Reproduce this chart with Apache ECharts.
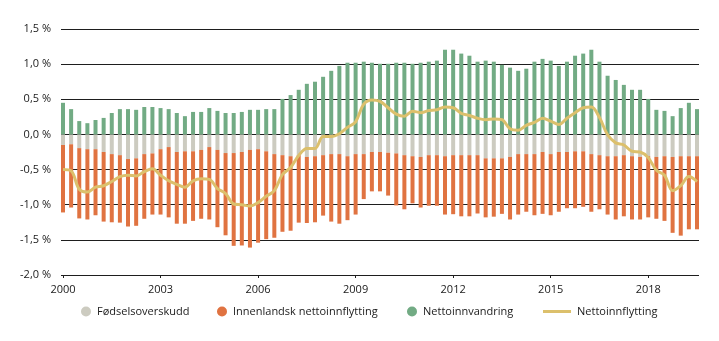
<!DOCTYPE html>
<html>
<head>
<meta charset="utf-8">
<script src="https://cdn.jsdelivr.net/npm/echarts@6/dist/echarts.min.js"></script>
<style>
html,body{margin:0;padding:0;background:#fff;}
#c{width:719px;height:341px;}
</style>
</head>
<body>
<div id="c"></div>
<script>
// Quarters 2000K1 .. 2019K3
const years = ['2000','2001','2002','2003','2004','2005','2006','2007','2008','2009','2010','2011','2012','2013','2014','2015','2016','2017','2018','2019'];
const quarters = ['K1','K2','K3','K4'];
const categories = [];
years.forEach(y => quarters.forEach(q => categories.push(y + q)));
categories.length = 79;

const tickYears = ['2000','2003','2006','2009','2012','2015','2018'];

// Fødselsoverskudd (%), negative
const fodselsoverskudd = [
 -0.15,-0.14,-0.195,-0.21,-0.21,-0.25,-0.28,-0.295,-0.35,-0.34,
 -0.28,-0.27,-0.21,-0.18,-0.25,-0.24,-0.24,-0.22,-0.18,-0.22,
 -0.265,-0.265,-0.25,-0.22,-0.21,-0.24,-0.28,-0.295,-0.31,-0.295,
 -0.32,-0.31,-0.295,-0.28,-0.28,-0.31,-0.28,-0.28,-0.25,-0.25,
 -0.26,-0.27,-0.295,-0.31,-0.32,-0.295,-0.295,-0.31,-0.295,-0.295,
 -0.295,-0.295,-0.34,-0.34,-0.34,-0.32,-0.28,-0.28,-0.28,-0.25,
 -0.28,-0.25,-0.25,-0.24,-0.24,-0.28,-0.295,-0.31,-0.31,-0.295,
 -0.31,-0.32,-0.31,-0.32,-0.31,-0.32,-0.31,-0.31,-0.31
];

// Innenlandsk nettoinnflytting (%)
const innenlandsk = [
 -0.96,-0.90,-1.00,-1.00,-0.94,-0.99,-0.97,-0.96,-0.96,-0.96,
 -0.92,-0.87,-0.93,-1.00,-1.02,-1.03,-0.99,-0.98,-1.03,-1.10,
 -1.17,-1.32,-1.33,-1.39,-1.33,-1.25,-1.19,-1.09,-1.06,-0.96,
 -0.94,-0.94,-0.86,-0.96,-0.99,-0.91,-0.86,-0.64,-0.56,-0.56,
 -0.61,-0.74,-0.77,-0.67,-0.72,-0.72,-0.72,-0.83,-0.84,-0.87,
 -0.87,-0.83,-0.84,-0.83,-0.79,-0.89,-0.86,-0.82,-0.87,-0.88,
 -0.87,-0.85,-0.80,-0.81,-0.79,-0.82,-0.77,-0.83,-0.90,-0.87,
 -0.90,-0.89,-0.87,-0.88,-0.92,-1.08,-1.13,-1.04,-1.04
];

// Nettoinnvandring (%)
const nettoinnvandring = [
 0.45,0.36,0.19,0.16,0.205,0.235,0.305,0.36,0.36,0.35,
 0.39,0.39,0.375,0.36,0.305,0.26,0.32,0.32,0.375,0.335,
 0.305,0.305,0.32,0.35,0.35,0.36,0.36,0.505,0.56,0.635,
 0.72,0.75,0.82,0.905,0.975,1.02,1.02,1.035,1.02,1.005,
 1.005,1.02,1.02,1.005,1.02,1.035,1.05,1.205,1.205,1.15,
 1.12,1.035,1.05,1.035,0.99,0.95,0.905,0.935,1.035,1.075,
 1.05,0.975,1.035,1.12,1.15,1.205,1.035,0.835,0.775,0.705,
 0.635,0.635,0.505,0.35,0.335,0.26,0.375,0.45,0.36
];

// Nettoinnflytting (%)
const nettoinnflytting = [
 -0.50,-0.52,-0.78,-0.82,-0.75,-0.73,-0.67,-0.60,-0.58,-0.59,
 -0.53,-0.49,-0.58,-0.66,-0.71,-0.75,-0.66,-0.63,-0.64,-0.77,
 -0.84,-0.99,-1.00,-1.02,-0.97,-0.88,-0.80,-0.57,-0.47,-0.30,
 -0.20,-0.20,-0.03,-0.03,0.01,0.10,0.18,0.43,0.49,0.47,
 0.38,0.29,0.26,0.33,0.31,0.34,0.35,0.39,0.38,0.30,
 0.27,0.23,0.21,0.22,0.21,0.08,0.06,0.13,0.17,0.23,
 0.19,0.14,0.23,0.31,0.38,0.39,0.24,-0.005,-0.12,-0.15,
 -0.24,-0.25,-0.33,-0.51,-0.58,-0.80,-0.73,-0.60,-0.67
];

const yTicks = [-2, -1.5, -1, -0.5, 0, 0.5, 1, 1.5];

const FONT = 'Open Sans';
const TXT = '#1a1a1a';
const C_GREY = '#cccbc0';
const C_ORANGE = '#e07341';
const C_GREEN = '#72ab84';
const C_LINE = '#dcc06c';

const chart = echarts.init(document.getElementById('c'), null, {renderer: 'canvas'});

const fmtPct = v => v.toFixed(1).replace('.', ',') + ' %';

function legendItem(name, left, icon, w, h) {
  return {
    data: [name], left: left, top: 306, icon: icon,
    itemWidth: w, itemHeight: h, padding: 0,
    selectedMode: false,
    textStyle: {fontFamily: FONT, fontSize: 11, color: TXT, padding: [0,0,0,1]}
  };
}

chart.setOption({
  animation: false,
  backgroundColor: '#fff',
  textStyle: {fontFamily: FONT},
  grid: [
    {left: 63, right: 22, top: 29, bottom: 66},
    {left: 61, right: 20, top: 29, bottom: 66}
  ],
  legend: [
    legendItem('Fødselsoverskudd', 81, 'circle', 10, 10),
    legendItem('Innenlandsk nettoinnflytting', 217, 'circle', 10, 10),
    legendItem('Nettoinnvandring', 407, 'circle', 10, 10),
    legendItem('Nettoinnflytting', 543, 'rect', 28, 3)
  ],
  xAxis: [
    {
      type: 'category', gridIndex: 0, data: categories, boundaryGap: false,
      axisLine: {show: false}, axisTick: {show: false},
      axisLabel: {
        interval: 11, margin: 9, fontSize: 11, color: TXT, fontFamily: FONT,
        formatter: v => { const y = v.slice(0,4); return tickYears.indexOf(y) >= 0 ? y : ''; }
      },
      splitLine: {show: false}
    },
    {
      type: 'category', gridIndex: 0, data: categories, boundaryGap: false,
      position: 'bottom',
      axisLine: {show: true, onZero: true, lineStyle: {color: '#1e1e1e', width: 1}},
      axisTick: {show: true, interval: 11, length: 3, lineStyle: {color: '#1e1e1e'}},
      axisLabel: {show: false},
      splitLine: {show: false}
    },
    {
      type: 'category', gridIndex: 1, data: categories, show: false
    }
  ],
  yAxis: [
    {
      type: 'value', gridIndex: 0, min: -2, max: 1.5, interval: 0.5,
      axisLine: {show: false}, axisTick: {show: false},
      axisLabel: {show: false}, splitLine: {show: false}
    },
    {
      type: 'value', gridIndex: 1, min: -2, max: 1.5, interval: 0.5,
      axisLine: {show: false}, axisTick: {show: false},
      axisLabel: {margin: 10, fontSize: 11, color: TXT, fontFamily: FONT, formatter: fmtPct},
      splitLine: {show: true, lineStyle: {color: '#1e1e1e', width: 1}}
    }
  ],
  series: [
    {
      name: 'Fødselsoverskudd', type: 'bar', xAxisIndex: 0, yAxisIndex: 0,
      stack: 'tot', barWidth: 4, data: fodselsoverskudd,
      itemStyle: {color: C_GREY}
    },
    {
      name: 'Innenlandsk nettoinnflytting', type: 'bar', xAxisIndex: 0, yAxisIndex: 0,
      stack: 'tot', barWidth: 4, data: innenlandsk,
      itemStyle: {color: C_ORANGE}
    },
    {
      name: 'Nettoinnvandring', type: 'bar', xAxisIndex: 0, yAxisIndex: 0,
      stack: 'tot', barWidth: 4, data: nettoinnvandring,
      itemStyle: {color: C_GREEN}
    },
    {
      name: 'Nettoinnflytting', type: 'line', xAxisIndex: 0, yAxisIndex: 0,
      data: nettoinnflytting, smooth: 0.35, symbol: 'none', z: 5,
      lineStyle: {color: C_LINE, width: 3}, itemStyle: {color: C_LINE}
    }
  ]
});
</script>
</body>
</html>
